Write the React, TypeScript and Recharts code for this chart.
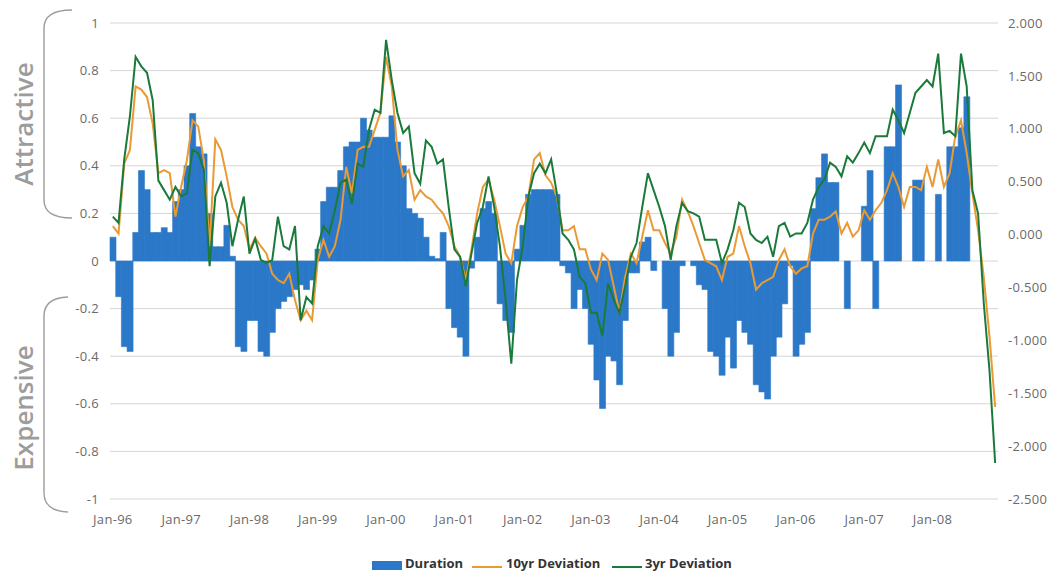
import React from "react";
import { ComposedChart, Bar, Line, XAxis, YAxis, CartesianGrid } from "recharts";

const years = ["96", "97", "98", "99", "00", "01", "02", "03", "04", "05", "06", "07", "08"];
const monthNames = ["Jan", "Feb", "Mar", "Apr", "May", "Jun", "Jul", "Aug", "Sep", "Oct", "Nov", "Dec"];
const months = years.flatMap((y) => monthNames.map((m) => `${m}-${y}`));

// Duration (left axis), one row per year
const duration = [
  0.10, -0.15, -0.36, -0.38, 0.12, 0.38, 0.30, 0.12, 0.12, 0.14, 0.12, 0.25,
  0.30, 0.40, 0.62, 0.48, 0.45, 0.20, 0.06, 0.06, 0.15, 0.02, -0.36, -0.38,
  -0.25, -0.25, -0.38, -0.40, -0.30, -0.20, -0.17, -0.15, -0.12, -0.10, -0.12, -0.08,
  0.05, 0.25, 0.31, 0.31, 0.38, 0.48, 0.50, 0.50, 0.60, 0.55, 0.52, 0.52,
  0.52, 0.61, 0.50, 0.40, 0.22, 0.20, 0.18, 0.10, 0.02, 0.01, 0.12, -0.20,
  -0.28, -0.32, -0.40, -0.03, 0.10, 0.22, 0.25, 0.20, -0.18, -0.25, -0.30, 0.05,
  0.15, 0.28, 0.30, 0.30, 0.30, 0.30, 0.28, -0.02, -0.05, -0.20, -0.12, -0.20,
  -0.35, -0.50, -0.62, -0.40, -0.42, -0.52, -0.25, -0.05, -0.05, 0.08, 0.10, -0.04,
  0.00, -0.20, -0.40, -0.30, -0.02, 0.00, -0.02, -0.10, -0.12, -0.38, -0.40, -0.48,
  -0.32, -0.45, -0.25, -0.30, -0.35, -0.52, -0.55, -0.58, -0.40, -0.32, -0.18, -0.02,
  -0.40, -0.35, -0.30, 0.22, 0.35, 0.45, 0.33, 0.33, 0, -0.20, 0, 0,
  0.23, 0.38, -0.20, 0, 0.48, 0.48, 0.74, 0, 0, 0.34, 0.34, 0,
  0, 0.28, 0, 0.48, 0.48, 0.56, 0.69, 0, 0, 0, 0, 0,
];

// 10yr deviation (right axis)
const dev10yr = [
  0.08, 0.01, 0.67, 0.80, 1.40, 1.37, 1.30, 1.05, 0.58, 0.61, 0.58, 0.17,
  0.45, 0.70, 1.08, 1.02, 0.70, -0.11, 0.90, 0.80, 0.55, 0.26, 0.14, 0.08,
  -0.14, -0.03, -0.11, -0.18, -0.37, -0.43, -0.46, -0.37, -0.62, -0.81, -0.72, -0.81,
  -0.24, -0.05, -0.21, -0.11, 0.14, 0.64, 0.39, 0.80, 0.83, 0.83, 0.99, 1.15,
  1.68, 1.40, 0.80, 0.55, 0.61, 0.33, 0.42, 0.36, 0.33, 0.26, 0.20, 0.08,
  -0.11, -0.21, -0.43, -0.14, 0.20, 0.45, 0.52, 0.33, 0.08, -0.18, -0.27, 0.08,
  0.26, 0.36, 0.71, 0.77, 0.56, 0.49, 0.36, 0.04, 0.04, 0.08, -0.14, -0.14,
  -0.33, -0.43, -0.18, -0.24, -0.49, -0.74, -0.40, -0.18, -0.27, -0.02, 0.23, 0.04,
  0.04, -0.08, -0.18, -0.02, 0.33, 0.22, 0.08, -0.08, -0.24, -0.27, -0.30, -0.43,
  -0.21, -0.18, 0.08, -0.11, -0.27, -0.52, -0.46, -0.43, -0.40, -0.24, -0.14, -0.30,
  -0.37, -0.32, -0.30, 0.01, 0.14, 0.14, 0.17, 0.22, 0.01, 0.11, -0.02, 0.04,
  0.23, 0.14, 0.23, 0.30, 0.42, 0.58, 0.45, 0.26, 0.45, 0.45, 0.42, 0.64,
  0.45, 0.71, 0.45, 0.58, 0.93, 1.08, 0.77, 0.39, 0.04, -0.40, -0.96, -1.63,
];

// 3yr deviation (right axis)
const dev3yr = [
  0.17, 0.11, 0.71, 1.12, 1.68, 1.59, 1.53, 1.27, 0.51, 0.42, 0.33, 0.45,
  0.36, 0.39, 0.80, 0.77, 0.61, -0.30, 0.36, 0.49, 0.30, -0.11, 0.14, 0.36,
  -0.18, -0.04, -0.24, -0.27, -0.24, 0.17, -0.11, -0.14, 0.08, -0.81, -0.59, -0.65,
  -0.11, 0.08, 0.01, 0.23, 0.49, 0.52, 0.29, 0.67, 0.64, 0.99, 1.18, 1.15,
  1.84, 1.46, 1.15, 0.96, 1.02, 0.58, 0.48, 0.89, 0.83, 0.67, 0.71, 0.26,
  -0.14, -0.21, -0.49, -0.18, 0.11, 0.26, 0.55, 0.26, -0.11, -0.62, -1.22, -0.43,
  -0.11, 0.36, 0.58, 0.67, 0.58, 0.71, 0.39, 0.01, -0.05, -0.14, -0.40, -0.46,
  -0.74, -0.74, -0.96, -0.46, -0.62, -0.74, -0.49, -0.21, -0.08, 0.26, 0.58, 0.42,
  0.26, 0.08, -0.24, 0.08, 0.30, 0.22, 0.20, 0.17, -0.05, -0.05, -0.05, -0.27,
  -0.14, 0.04, 0.30, 0.26, 0.01, -0.05, -0.08, -0.02, -0.21, 0.08, 0.11, -0.02,
  0.01, 0.01, 0.11, 0.33, 0.45, 0.52, 0.68, 0.64, 0.55, 0.74, 0.68, 0.77,
  0.87, 0.77, 0.93, 0.93, 0.93, 1.18, 1.08, 0.96, 1.15, 1.34, 1.40, 1.46,
  1.40, 1.71, 0.96, 0.98, 0.93, 1.71, 1.40, 0.42, 0.20, -0.65, -1.28, -2.16,
];

const leftTicks = [1, 0.8, 0.6, 0.4, 0.2, 0, -0.2, -0.4, -0.6, -0.8, -1];
const rightTicks = [2, 1.5, 1, 0.5, 0, -0.5, -1, -1.5, -2, -2.5];

const data = months.map((month, i) => ({
  month,
  duration: duration[i],
  dev10: dev10yr[i],
  dev3: dev3yr[i],
}));

const colors = {
  duration: "#2b78c8",
  dev10: "#e99a35",
  dev3: "#1a7a3a",
  tick: "#6a6a6a",
  side: "#9c9c9c",
};

const font = "'Open Sans', 'Noto Sans', sans-serif";
const tickStyle = { fontSize: 13, fill: colors.tick, fontFamily: font, letterSpacing: 0.3 };

function fmtLeft(v: number) {
  const s = Number(v.toFixed(1)).toString();
  return s === "-0" ? "0" : s;
}

export default function App() {
  return (
    <div style={{ position: "absolute", left: 0, top: 0, width: 1056, height: 573, background: "#fff" }}>
      <ComposedChart
        width={1056}
        height={573}
        data={data}
        barCategoryGap={0}
        barGap={0}
        margin={{ top: 23, right: 8, left: 50, bottom: 44 }}
      >
        <CartesianGrid yAxisId="left" vertical={false} stroke="#d6d6d6" />
        <XAxis
          dataKey="month"
          interval={11}
          tick={tickStyle}
          tickLine={false}
          axisLine={false}
          tickMargin={10}
          height={30}
        />
        <YAxis
          yAxisId="left"
          domain={[-1, 1]}
          ticks={leftTicks}
          tickFormatter={fmtLeft}
          tick={tickStyle}
          tickLine={false}
          axisLine={false}
          tickMargin={5}
          width={60}
        />
        <YAxis
          yAxisId="right"
          orientation="right"
          domain={[-2.5, 2]}
          ticks={rightTicks}
          tickFormatter={(v: number) => v.toFixed(3)}
          tick={tickStyle}
          tickLine={false}
          axisLine={false}
          tickMargin={4}
          width={50}
        />
        <Bar
          yAxisId="left"
          dataKey="duration"
          name="Duration"
          fill={colors.duration}
          stroke={colors.duration}
          strokeWidth={0.6}
          isAnimationActive={false}
        />
        <Line
          yAxisId="right"
          dataKey="dev10"
          name="10yr Deviation"
          stroke={colors.dev10}
          strokeWidth={2}
          dot={false}
          type="linear"
          isAnimationActive={false}
        />
        <Line
          yAxisId="right"
          dataKey="dev3"
          name="3yr Deviation"
          stroke={colors.dev3}
          strokeWidth={2}
          dot={false}
          type="linear"
          isAnimationActive={false}
        />
      </ComposedChart>

      {/* side labels with brackets */}
      <svg
        width={1056}
        height={573}
        style={{ position: "absolute", left: 0, top: 0, pointerEvents: "none" }}
      >
        <path d="M 72 10 Q 44 10 44 28 L 44 200 Q 44 218 72 218" fill="none" stroke={colors.side} strokeWidth={1.4} />
        <path d="M 68 297 Q 44 298 44 316 L 44 493 Q 44 511 68 512" fill="none" stroke={colors.side} strokeWidth={1.4} />
        <text
          x={23}
          y={124}
          transform="rotate(-90 23 124)"
          textAnchor="middle"
          dominantBaseline="central"
          fontFamily={font}
          fontWeight={600}
          fontSize={26}
          fill={colors.side}
        >
          Attractive
        </text>
        <text
          x={23}
          y={408}
          transform="rotate(-90 23 408)"
          textAnchor="middle"
          dominantBaseline="central"
          fontFamily={font}
          fontWeight={600}
          fontSize={26}
          fill={colors.side}
        >
          Expensive
        </text>
      </svg>

      {/* legend */}
      <div style={{ fontFamily: font, fontWeight: 700, fontSize: 13, color: "#333", lineHeight: "17px" }}>
        <span style={{ position: "absolute", left: 372, top: 561, width: 30, height: 9, background: colors.duration }} />
        <span style={{ position: "absolute", left: 405, top: 555 }}>Duration</span>
        <span style={{ position: "absolute", left: 472, top: 566, width: 30, height: 2, background: colors.dev10 }} />
        <span style={{ position: "absolute", left: 506, top: 555 }}>10yr Deviation</span>
        <span style={{ position: "absolute", left: 612, top: 566, width: 30, height: 2, background: colors.dev3 }} />
        <span style={{ position: "absolute", left: 645, top: 555 }}>3yr Deviation</span>
      </div>
    </div>
  );
}
